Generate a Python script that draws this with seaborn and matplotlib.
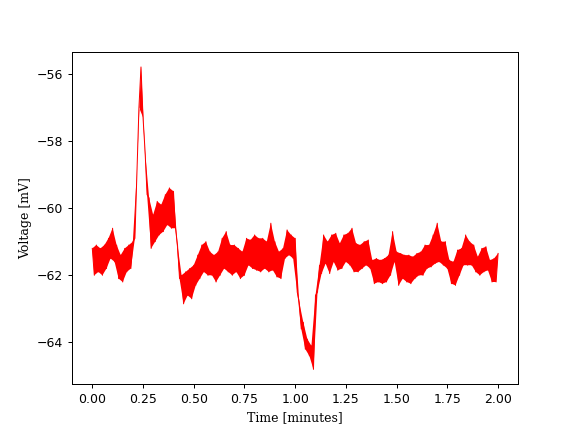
import numpy as np
import pandas as pd
import matplotlib
matplotlib.use("Agg")
import matplotlib.pyplot as plt
import seaborn as sns

# upper edge of the trace, read at t = 0.00, 0.02, ..., 2.00 min
volt_hi = [
    -61.2, -61.1, -61.2, -61.1, -60.9, -60.6, -61.1, -61.4, -61.2, -61.1,
    -61.0, -58.9, -55.8, -58.3, -59.7, -60.2, -59.8, -59.9, -59.6, -59.4,
    -59.5, -61.1, -62.0, -61.9, -61.8, -61.7, -61.4, -61.1, -61.0, -61.3,
    -61.4, -61.3, -60.9, -60.7, -61.1, -61.1, -61.2, -61.3, -60.9, -60.95,
    -60.8, -60.9, -60.9, -61.0, -60.45, -61.0, -61.3, -61.2, -60.65, -60.8,
    -60.9, -62.8, -63.4, -63.9, -64.1, -62.6, -61.7, -60.8, -61.0, -60.8,
    -60.75, -61.05, -60.8, -60.75, -60.6, -61.05, -61.1, -61.0, -60.95, -61.55,
    -61.5, -61.55, -61.5, -61.4, -60.7, -61.3, -61.35, -61.4, -61.4, -61.45,
    -61.35, -61.3, -61.1, -61.1, -60.8, -60.45, -61.0, -61.0, -61.55, -61.6,
    -61.25, -61.2, -60.8, -61.0, -61.1, -61.45, -61.2, -61.15, -61.55, -61.5,
    -61.35,
]
# lower edge of the trace, read at t = 0.01, 0.03, ..., 1.99 min
volt_lo = [
    -62.0, -61.9, -62.0, -61.8, -61.5, -61.6, -62.1, -62.2, -61.9, -61.8,
    -60.9, -57.0, -57.3, -59.6, -61.2, -61.0, -60.8, -60.7, -60.5, -60.6,
    -60.6, -62.1, -62.85, -62.6, -62.7, -62.3, -62.1, -61.9, -62.0, -62.0,
    -62.2, -62.0, -61.8, -61.9, -62.0, -61.9, -62.1, -62.0, -61.7, -61.8,
    -61.85, -61.9, -61.8, -61.9, -61.85, -62.05, -62.1, -61.5, -61.4, -61.5,
    -62.5, -63.6, -64.2, -64.4, -64.8, -62.5, -61.95, -61.65, -61.95, -61.6,
    -61.85, -61.8, -61.6, -61.7, -61.9, -61.9, -61.8, -61.7, -61.8, -62.25,
    -62.2, -62.25, -62.2, -62.0, -61.6, -62.3, -62.1, -62.2, -62.25, -62.1,
    -62.0, -62.0, -61.8, -61.75, -61.65, -61.6, -61.7, -61.8, -62.25, -62.3,
    -62.0, -61.7, -61.7, -61.7, -61.9, -62.0, -61.9, -61.85, -62.2, -62.2,
]

t_hi = np.round(np.arange(len(volt_hi)) * 0.02, 2)
t_lo = np.round(np.arange(len(volt_lo)) * 0.02 + 0.01, 2)

# merge both edges on a 0.01 min grid
voltage = []
for i, hi in enumerate(volt_hi):
    voltage.append(hi)
    if i < len(volt_lo):
        voltage.append(volt_lo[i])
time = np.round(np.arange(len(voltage)) * 0.01, 2)

df = pd.DataFrame({"time": time, "voltage": voltage})

fig, ax = plt.subplots(figsize=(6.4, 4.8), dpi=90)
# dense noise shows as a solid band between the edges
ax.fill(np.concatenate([t_hi, t_lo[::-1]]),
        np.concatenate([volt_hi, volt_lo[::-1]]),
        color="red", linewidth=0)
sns.lineplot(data=df, x="time", y="voltage", ax=ax, color="red",
             linewidth=0.8, sort=False, estimator=None)
ax.set_xlabel("Time [minutes]", family="serif")
ax.set_ylabel("Voltage [mV]", family="serif")
plt.savefig("out.png", dpi=90)
